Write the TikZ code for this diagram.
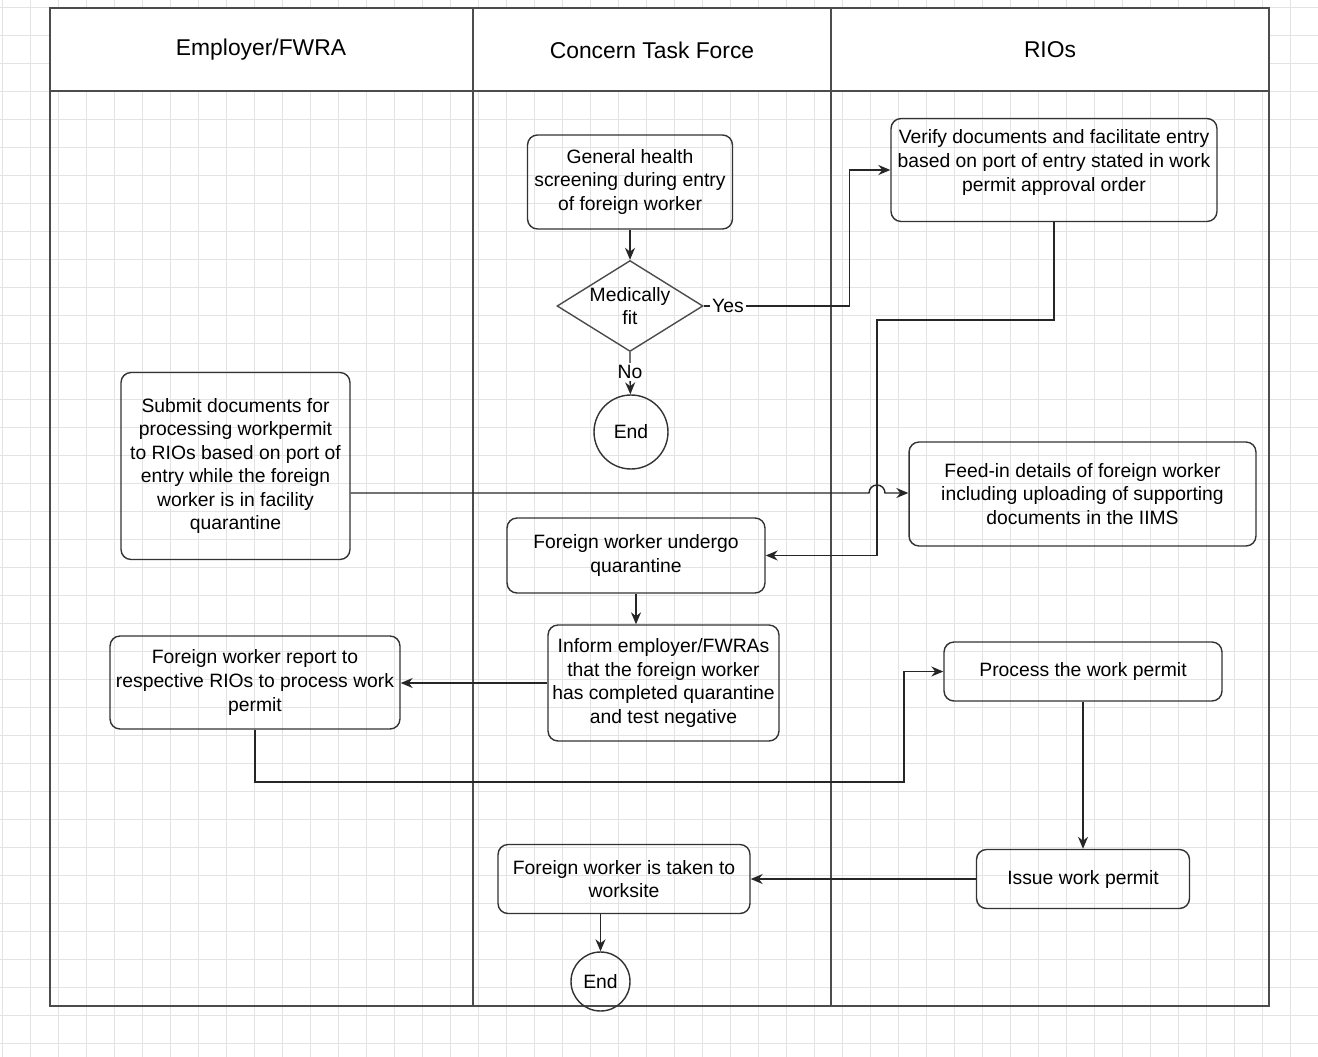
\documentclass[tikz,border=0pt]{standalone}
\usepackage{fontspec}
\setmainfont{Liberation Sans}
\usetikzlibrary{shapes.geometric,arrows.meta}
\begin{document}
\begin{tikzpicture}[x=0.02cm, y=-0.02cm, thick,
  gridline/.style={black!11, line width=0.4pt},
  lane/.style={draw=black!70, line width=0.9pt},
  head/.style={font=\fontsize{13}{16}\selectfont},
  box/.style={draw=black!80, rounded corners=0.2cm, align=center, inner sep=2pt,
    font=\fontsize{11}{13.4}\selectfont},
  decide/.style={draw=black!70, diamond, aspect=1.6, inner sep=0pt, align=center,
    font=\fontsize{11}{13.4}\selectfont},
  stop/.style={draw=black!80, circle, inner sep=0pt, font=\fontsize{11}{13.4}\selectfont},
  tag/.style={inner sep=1pt, font=\fontsize{11}{13.4}\selectfont},
  flow/.style={draw=black!85, -{Stealth[length=2.4mm, width=2mm]}}]
\useasboundingbox (0,0) rectangle (1318,1057);
% background grid
\foreach \gx in {2,30,...,1318} \draw[gridline] (\gx,0) -- (\gx,1057);
\foreach \gy in {7,35,...,1057} \draw[gridline] (0,\gy) -- (1318,\gy);
% swimlanes
\fill[white] (50,8) rectangle (1269,91);
\draw[lane] (50,8) rectangle (1269,1006);
\draw[lane] (50,91) -- (1269,91);
\draw[lane] (473,8) -- (473,1006);
\draw[lane] (831,8) -- (831,1006);
\node[head] (H_0) at (261,50) {Employer/FWRA};
\node[head] (H_1) at (652,50) {Concern Task Force};
\node[head] (H_2) at (1050,50) {RIOs};
% Concern Task Force, entry
\node[box, minimum width=4.1cm, minimum height=1.88cm] (P_1_0) at (630,182) {General health\\screening during entry\\of foreign worker};
\node[decide, minimum width=2.92cm, minimum height=1.82cm] (P_1_1) at (630,306) {Medically\\fit};
\draw[flow] (P_1_0) -- (P_1_1);
\node[tag] (P_yes) at (728,306) {Yes};
\node[tag] (P_no) at (630,372) {No};
\node[stop, minimum size=1.48cm] (P_1_2) at (631,432) {End};
\draw[flow] (P_1_1) -- (P_no) -- (P_1_2);
% RIOs, entry
\node[box, minimum width=6.52cm, minimum height=2.06cm, text depth=0.38cm] (P_2_0) at (1054,170) {Verify documents and facilitate entry\\based on port of entry stated in work\\permit approval order};
\draw[flow] (P_1_1) -- (P_yes) -| ([xshift=-0.82cm]P_2_0.west) -- (P_2_0.west);
% Employer
\node[box, minimum width=4.58cm, minimum height=3.74cm] (P_0_0) at (235.5,466) {Submit documents for\\processing workpermit\\to RIOs based on port of\\entry while the foreign\\worker is in facility\\quarantine};
\node[box, minimum width=6.94cm, minimum height=2.08cm] (P_2_1) at (1082.5,494) {Feed-in details of foreign worker\\including uploading of supporting\\documents in the IIMS};
\coordinate (P_hop) at (877,493);
\draw[flow] (P_0_0.east |- P_hop) -- ([xshift=-0.16cm]P_hop) arc[start angle=180, end angle=0, radius=0.16cm] -- (P_2_1.west |- P_hop);
% quarantine
\node[box, minimum width=5.16cm, minimum height=1.5cm] (P_1_3) at (636,555.5) {Foreign worker undergo\\quarantine};
\coordinate (P_bend1) at (877,320);
\draw[flow] (P_2_0.south) |- (P_bend1) |- (P_1_3.east);
\node[box, minimum width=4.62cm, minimum height=2.32cm] (P_1_4) at (663.5,683) {Inform employer/FWRAs\\that the foreign worker\\has completed quarantine\\and test negative};
\draw[flow] (P_1_3.south) -- (P_1_3.south |- P_1_4.north);
\node[box, minimum width=5.8cm, minimum height=1.86cm] (P_0_1) at (255,682.5) {Foreign worker report to\\respective RIOs to process work\\permit};
\draw[flow] (P_1_4.west) -- (P_0_1.east |- P_1_4.west);
% work permit
\node[box, minimum width=5.56cm, minimum height=1.18cm] (P_2_2) at (1083,671.5) {Process the work permit};
\coordinate (P_bend2) at (904,782);
\draw[flow] (P_0_1.south) |- (P_bend2) |- (P_2_2.west);
\node[box, minimum width=4.26cm, minimum height=1.18cm] (P_2_3) at (1083,879) {Issue work permit};
\draw[flow] (P_2_2) -- (P_2_3);
\node[box, minimum width=5.04cm, minimum height=1.38cm] (P_1_5) at (624,879) {Foreign worker is taken to\\worksite};
\draw[flow] (P_2_3) -- (P_1_5);
\node[stop, minimum size=1.18cm] (P_1_6) at (600.5,981.5) {End};
\draw[flow] (P_1_5.south -| P_1_6) -- (P_1_6);
\end{tikzpicture}
\end{document}
